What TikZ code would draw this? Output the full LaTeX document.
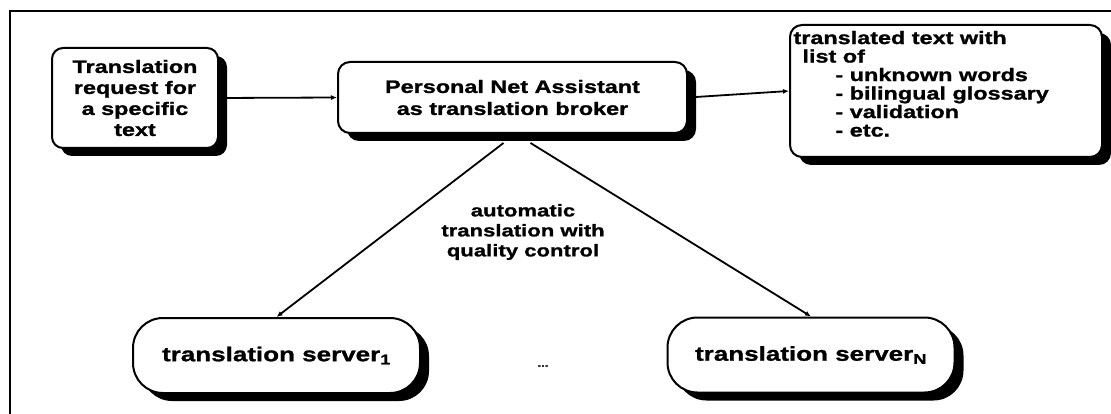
\documentclass[tikz,border=0pt]{standalone}
\usepackage{fontspec}
\newfontfamily\wf{Liberation Sans}[FakeStretch=1.3,FakeBold=1.2]
\usetikzlibrary{shadows,arrows.meta}
\begin{document}
\begin{tikzpicture}[x=1pt,y=-1pt,
  box/.style={draw=black, line width=2pt, fill=white, rounded corners=11pt,
    drop shadow={shadow xshift=9pt, shadow yshift=-8pt, fill=black, opacity=1},
    inner sep=2pt, align=center},
  server/.style={box, rounded corners=30pt, minimum width=287pt, minimum height=75pt,
    font=\wf\bfseries\fontsize{20}{22}\selectfont},
  conn/.style={line width=1.8pt, -{Latex[length=6pt,width=5pt]}},
  lbl/.style={align=center, inner sep=0pt}
]
\useasboundingbox (0,0) rectangle (1111,414);
\draw[line width=2.2pt] (10,414) -- (10,11) -- (1111,11);

\node[box, minimum width=166pt, minimum height=100pt,
  font=\wf\bfseries\fontsize{18}{21}\selectfont] (req) at (135,98)
  {Translation\\request for\\a specific\\text};
\node[box, rounded corners=12pt, minimum width=349pt, minimum height=71pt,
  font=\wf\bfseries\fontsize{18}{22}\selectfont] (pna) at (512.5,97.5)
  {Personal Net Assistant\\as translation broker};
\node[box, rounded corners=12pt, minimum width=312pt, minimum height=132pt,
  inner xsep=3pt, inner ysep=6pt, align=left,
  font=\wf\bfseries\fontsize{18}{18.5}\selectfont] (out) at (946,91)
  {\parbox[c][120pt][t]{305pt}{\raggedright
   translated text with\\
   \hspace*{9pt}list of\\
   \hspace*{42pt}- unknown words\\
   \hspace*{42pt}- bilingual glossary\\
   \hspace*{42pt}- validation\\
   \hspace*{42pt}- etc.}};
\node[server] (s1) at (276.5,355.5) {translation server\textsubscript{1}};
\node[server] (sn) at (811,355) {translation server\textsubscript{N}};
\node[lbl, font=\wf\bfseries\fontsize{10}{12}\selectfont] (dots) at (543,366) {...};
\node[lbl, font=\wf\bfseries\fontsize{17}{20}\selectfont] (auto) at (523,232)
  {automatic\\translation with\\quality control};

\draw[conn] (req.east) -- (pna.west);
\draw[conn] (pna.east) -- (out.west);
\draw[conn] ([xshift=-9pt,yshift=-9pt]pna.south) -- (s1.north);
\draw[conn] ([xshift=18pt,yshift=-9pt]pna.south) -- (sn.north);
\end{tikzpicture}
\end{document}
